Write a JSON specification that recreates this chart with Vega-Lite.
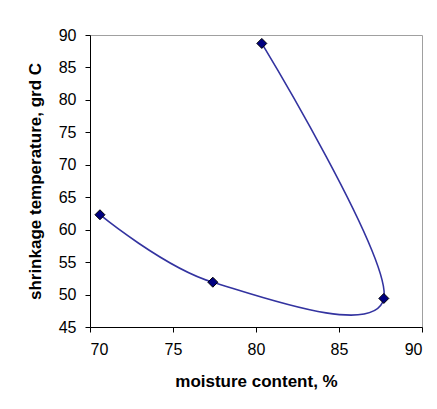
{
  "$schema": "https://vega.github.io/schema/vega-lite/v6.json",
  "width": 332,
  "height": 292,
  "autosize": "none",
  "padding": {"left": 90, "top": 35, "right": 15, "bottom": 82},
  "background": "white",
  "config": {
    "view": {"stroke": "#a0a0a0", "strokeWidth": 1},
    "axis": {
      "grid": false,
      "domainColor": "#000000",
      "tickColor": "#000000",
      "tickSize": 5,
      "labelPadding": 9,
      "labelFont": "Liberation Sans",
      "labelFontSize": 16,
      "labelColor": "#000000",
      "titleFont": "Liberation Sans",
      "titleFontSize": 17,
      "titleFontWeight": "bold",
      "titleColor": "#000000"
    }
  },
  "data": {
    "values": [
      {"order": 1, "moisture": 70.6, "temp": 62.3},
      {"order": 2, "moisture": 77.4, "temp": 51.9},
      {"order": 3, "moisture": 87.7, "temp": 49.4},
      {"order": 4, "moisture": 80.35, "temp": 88.7}
    ]
  },
  "encoding": {
    "x": {
      "field": "moisture",
      "type": "quantitative",
      "scale": {"domain": [70, 90], "nice": false, "zero": false},
      "axis": {"values": [70, 75, 80, 85, 90], "title": "moisture content, %", "titlePadding": 16}
    },
    "y": {
      "field": "temp",
      "type": "quantitative",
      "scale": {"domain": [45, 90], "nice": false, "zero": false},
      "axis": {"values": [45, 50, 55, 60, 65, 70, 75, 80, 85, 90], "title": "shrinkage temperature, grd C", "titlePadding": 14}
    }
  },
  "layer": [
    {
      "mark": {"type": "line", "interpolate": "cardinal", "color": "#3333a0", "strokeWidth": 1.6},
      "encoding": {"order": {"field": "order", "type": "quantitative"}}
    },
    {
      "mark": {"type": "point", "shape": "diamond", "size": 100, "filled": true, "fill": "#000080", "stroke": "#000000", "strokeWidth": 1, "opacity": 1}
    }
  ]
}
